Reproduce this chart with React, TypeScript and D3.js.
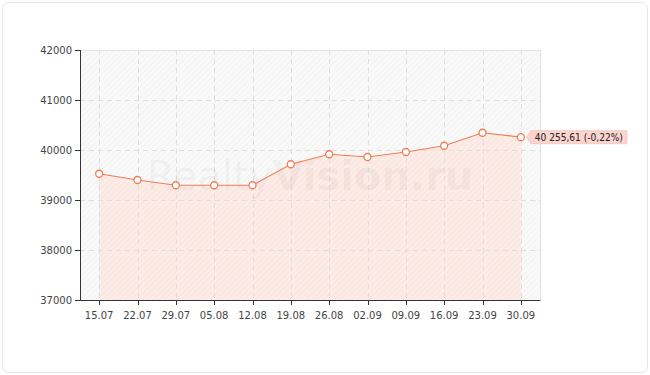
import React from "react";
import * as d3 from "d3";

const categories = ["15.07", "22.07", "29.07", "05.08", "12.08", "19.08", "26.08", "02.09", "09.09", "16.09", "23.09", "30.09"];
const values = [39525, 39400, 39295, 39295, 39295, 39715, 39915, 39860, 39960, 40085, 40345, 40255.61];
const yTicks = [37000, 38000, 39000, 40000, 41000, 42000];
const lastLabel = "40 255,61 (-0,22%)";

const W = 650, H = 375;
const M = { left: 80, right: 540, top: 50, bottom: 300 };
const FONT = "'DejaVu Sans', Verdana, sans-serif";

export default function App() {
  const x = d3.scalePoint<string>().domain(categories).range([M.left, M.right]).padding(0.5);
  const y = d3.scaleLinear().domain([37000, 42000]).range([M.bottom, M.top]);
  const pts: [number, number][] = categories.map((c, i) => [x(c)!, y(values[i])]);
  const line = d3.line().curve(d3.curveLinear)(pts)!;
  const area = d3.area<[number, number]>().x(d => d[0]).y0(M.bottom).y1(d => d[1])(pts)!;
  const last = pts[pts.length - 1];

  return (
    <div style={{ position: "absolute", left: 0, top: 0 }}>
      <svg width={W} height={H} style={{ display: "block" }} fontFamily={FONT}>
        <defs>
          <pattern id="hatchGray" width="4" height="4" patternUnits="userSpaceOnUse" patternTransform="rotate(45)">
            <rect width="4" height="4" fill="#f9f9f9" />
            <line x1="0" y1="0" x2="0" y2="4" stroke="#efefef" strokeWidth="1.2" />
          </pattern>
          <pattern id="hatchPink" width="4" height="4" patternUnits="userSpaceOnUse" patternTransform="rotate(45)">
            <rect width="4" height="4" fill="#fcebe6" />
            <line x1="0" y1="0" x2="0" y2="4" stroke="#f8e1da" strokeWidth="1.2" />
          </pattern>
        </defs>
        <rect x={2.5} y={2.5} width={645} height={370} rx={6} fill="#fff" stroke="#e6e6e6" />
        <rect x={M.left} y={M.top} width={M.right - M.left} height={M.bottom - M.top} fill="url(#hatchGray)" />
        <path d={area} fill="url(#hatchPink)" />
        {yTicks.slice(1, -1).map(t => (
          <line key={t} x1={M.left} x2={M.right} y1={y(t) + 0.5} y2={y(t) + 0.5} stroke="#e2dede" strokeDasharray="5,4" />
        ))}
        {categories.map(c => (
          <line key={c} x1={Math.round(x(c)!) + 0.5} x2={Math.round(x(c)!) + 0.5} y1={M.top} y2={M.bottom} stroke="#e2dede" strokeDasharray="5,4" />
        ))}
        <line x1={M.left} x2={M.right + 0.5} y1={M.top + 0.5} y2={M.top + 0.5} stroke="#e3e3e3" />
        <line x1={M.right + 0.5} x2={M.right + 0.5} y1={M.top} y2={M.bottom} stroke="#e3e3e3" />
        <text x={310} y={190} textAnchor="middle" fontSize={40} fontFamily={FONT} fill="#000" fillOpacity={0.045}>
          <tspan>Realty</tspan><tspan fontWeight="bold">Vision.ru</tspan>
        </text>
        <line x1={M.left + 0.5} x2={M.left + 0.5} y1={M.top} y2={M.bottom + 0.5} stroke="#333" />
        <line x1={M.left} x2={M.right + 0.5} y1={M.bottom + 0.5} y2={M.bottom + 0.5} stroke="#333" />
        {yTicks.map(t => (
          <g key={t}>
            <line x1={M.left - 5} x2={M.left} y1={y(t) + 0.5} y2={y(t) + 0.5} stroke="#333" />
            <text x={M.left - 8} y={y(t) + 4} textAnchor="end" fontSize={10} fill="#444">{t}</text>
          </g>
        ))}
        {categories.map(c => (
          <g key={c}>
            <line x1={Math.round(x(c)!) + 0.5} x2={Math.round(x(c)!) + 0.5} y1={M.bottom} y2={M.bottom + 5} stroke="#333" />
            <text x={x(c)!} y={M.bottom + 19} textAnchor="middle" fontSize={10} fill="#444">{c}</text>
          </g>
        ))}
        <path d={line} fill="none" stroke="#f07e55" strokeWidth={1.2} />
        {pts.map((p, i) => (
          <circle key={i} cx={p[0]} cy={p[1]} r={3.5} fill="#fff" stroke="#f07e55" strokeWidth={1.3} />
        ))}
        <g>
          <path d={`M${last[0] + 6},${last[1]} L${last[0] + 10},${last[1] - 6.5} L${last[0] + 106},${last[1] - 6.5} L${last[0] + 106},${last[1] + 6.5} L${last[0] + 10},${last[1] + 6.5} Z`}
            fill="#fdd4cf" stroke="#f5c0b8" strokeWidth={0.8} />
          <text x={last[0] + 14} y={last[1] + 4} fontSize={10} fill="#222" textLength={88} lengthAdjust="spacingAndGlyphs">{lastLabel}</text>
        </g>
      </svg>
    </div>
  );
}
